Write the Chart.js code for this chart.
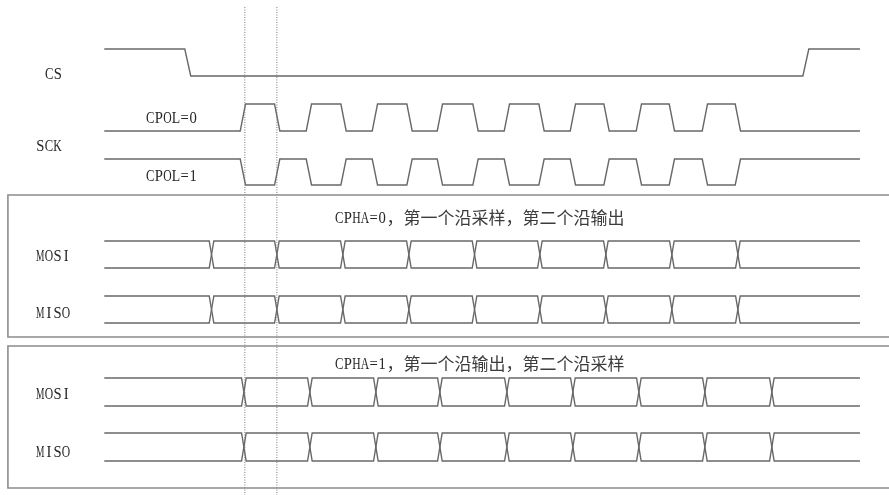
<!DOCTYPE html>
<html>
<head>
<meta charset="utf-8">
<script src="https://cdn.jsdelivr.net/npm/chart.js@4/dist/chart.umd.min.js"></script>
<style>
  html, body { margin: 0; padding: 0; background: #fff; }
  canvas { display: block; }
</style>
</head>
<body>
<canvas id="spiChart" width="889" height="495"></canvas>
<script>
// time unit = half a clock period, 0 = first SCK edge
const waveSpan = [-4.2, 18.7];
const csEdges = [-1.67, 17.06];
const sckRise = [0, 2, 4, 5.97, 8, 10, 12, 14];
const sckFall = [1.04, 3.05, 5.05, 7.05, 9.05, 11.02, 13, 15];
const cpha0Cross = [-0.95, 1.03, 3.03, 5.03, 7.02, 9, 11, 13, 15];
const cpha1Cross = [0.03, 2.03, 4.03, 5.97, 8, 10, 12, 14, 16.03];
const markerTimes = [0.06, 1.03];

const signalNames = ['CS', 'SCK', 'CPOL=0', 'CPOL=1', 'MOSI', 'MISO'];
const phaseTitles = ['CPHA=0，第一个沿采样，第二个沿输出', 'CPHA=1，第一个沿输出，第二个沿采样'];

// layout (y in canvas px, x in time units)
const X_MIN = -7.36, X_MAX = 19.58;
const lanes = {
    cs: [49, 76],
    cpol0: [104, 131],
    cpol1: [159, 185],
    mosi0: [241, 268], miso0: [296, 323],
    mosi1: [378, 406], miso1: [433, 461]
};
const boxes = [[-7.12, 195, 21, 337], [-7.12, 346, 21, 488]];
const LINE = '#686868';
const TEXT = '#262626';

// step waveform that toggles at each time in "edges"
function stepWave(edges, startLevel, otherLevel, halfEdge) {
    var pts = [{x: waveSpan[0], y: startLevel}];
    var cur = startLevel, next = otherLevel;
    edges.forEach(function(t) {
        pts.push({x: t - halfEdge, y: cur});
        pts.push({x: t + halfEdge, y: next});
        var tmp = cur; cur = next; next = tmp;
    });
    pts.push({x: waveSpan[1], y: cur});
    return pts;
}

function lineSet(points, extra) {
    return Object.assign({
        data: points,
        showLine: true,
        borderColor: LINE,
        borderWidth: 1.4,
        pointRadius: 0,
        fill: false,
        tension: 0
    }, extra || {});
}

const sckEdges = sckRise.concat(sckFall).sort(function(a, b) { return a - b; });

var datasets = [];

// frames round the two CPHA groups
boxes.forEach(function(b) {
    datasets.push(lineSet([
        {x: b[2], y: b[1]}, {x: b[0], y: b[1]}, {x: b[0], y: b[3]}, {x: b[2], y: b[3]}
    ], {borderColor: '#8c8c8c', borderWidth: 1.6}));
});

// dotted sample markers
markerTimes.forEach(function(t) {
    datasets.push(lineSet([{x: t, y: 7}, {x: t, y: 495}],
        {borderColor: '#777', borderWidth: 1, borderDash: [1, 1.5]}));
});

datasets.push(lineSet(stepWave(csEdges, lanes.cs[0], lanes.cs[1], 0.09)));
datasets.push(lineSet(stepWave(sckEdges, lanes.cpol0[1], lanes.cpol0[0], 0.08)));
datasets.push(lineSet(stepWave(sckEdges, lanes.cpol1[0], lanes.cpol1[1], 0.08)));

[[lanes.mosi0, cpha0Cross], [lanes.miso0, cpha0Cross],
 [lanes.mosi1, cpha1Cross], [lanes.miso1, cpha1Cross]].forEach(function(p) {
    var lane = p[0];
    datasets.push(lineSet(stepWave(p[1], lane[0], lane[1], 0.07)));
    datasets.push(lineSet(stepWave(p[1], lane[1], lane[0], 0.07)));
});

const labels = [
    {text: signalNames[0], t: -6.0, y: 73.5},
    {text: signalNames[1], t: -6.27, y: 145},
    {text: signalNames[2], t: -2.94, y: 117.5},
    {text: signalNames[3], t: -2.94, y: 175},
    {text: phaseTitles[0], t: 2.79, y: 217},
    {text: signalNames[4], t: -6.27, y: 255},
    {text: signalNames[5], t: -6.27, y: 312},
    {text: phaseTitles[1], t: 2.79, y: 363},
    {text: signalNames[4], t: -6.27, y: 393},
    {text: signalNames[5], t: -6.27, y: 451}
];

// ascii as narrow serif in fixed cells, CJK runs in a CJK face
const CELL = 8.6;
function drawMixed(ctx, str, x, y) {
    var runs = str.match(/[\x00-\x7f]+|[^\x00-\x7f]+/g) || [];
    runs.forEach(function(run) {
        if (/^[\x00-\x7f]/.test(run)) {
            ctx.font = '17px "Liberation Serif", serif';
            ctx.fillStyle = TEXT;
            ctx.textAlign = 'center';
            for (var i = 0; i < run.length; i++) {
                var ch = run[i];
                var w = ctx.measureText(ch).width;
                var sx = Math.min(0.86, 8.4 / w);
                ctx.save();
                ctx.translate(x + CELL / 2, y);
                ctx.scale(sx, 1);
                ctx.fillText(ch, 0, 0);
                ctx.restore();
                x += CELL;
            }
            ctx.textAlign = 'left';
        } else {
            ctx.font = '17px "Noto Sans CJK SC", sans-serif';
            ctx.fillStyle = '#3c3c3c';
            ctx.fillText(run, x, y + 1);
            x += ctx.measureText(run).width;
        }
    });
}

const labelPlugin = {
    id: 'labels',
    afterDatasetsDraw: function(chart) {
        var ctx = chart.ctx;
        var xs = chart.scales.x, ys = chart.scales.y;
        ctx.save();
        ctx.textBaseline = 'alphabetic';
        ctx.textAlign = 'left';
        labels.forEach(function(l) {
            drawMixed(ctx, l.text, xs.getPixelForValue(l.t), ys.getPixelForValue(l.y) + 5.5);
        });
        ctx.restore();
    }
};

new Chart(document.getElementById('spiChart').getContext('2d'), {
    type: 'scatter',
    data: {datasets: datasets},
    options: {
        responsive: false,
        animation: false,
        devicePixelRatio: 1,
        layout: {padding: 0},
        plugins: {legend: {display: false}, tooltip: {enabled: false}},
        scales: {
            x: {type: 'linear', display: false, min: X_MIN, max: X_MAX},
            y: {type: 'linear', display: false, min: 0, max: 495, reverse: true}
        }
    },
    plugins: [labelPlugin]
});
</script>
</body>
</html>
